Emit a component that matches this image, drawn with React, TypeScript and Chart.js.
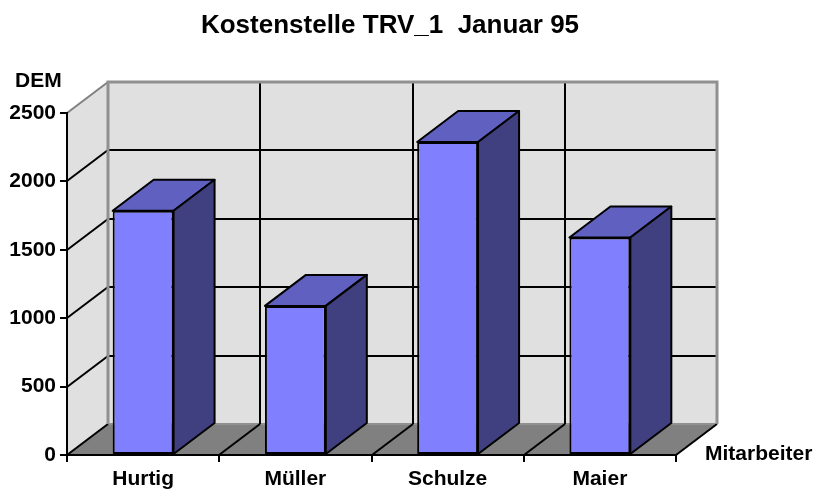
import React, { useEffect, useRef } from "react";
import { Chart, registerables } from "chart.js";

Chart.register(...registerables);

const title = "Kostenstelle TRV_1  Januar 95";
const yAxisLabel = "DEM";
const xAxisLabel = "Mitarbeiter";
const categories = ["Hurtig", "Müller", "Schulze", "Maier"];
const values = [1785, 1090, 2288, 1590];
const yMin = 0;
const yMax = 2500;
const yStep = 500;

const FONT = "'Liberation Sans', Arial, sans-serif";
const DX = 41;
const DY = -31;

const wall3d = {
  id: "wall3d",
  beforeDraw(chart: any) {
    const { ctx, chartArea, scales } = chart;
    const { left, right, top, bottom } = chartArea;
    const x = scales.x;
    const y = scales.y;
    ctx.save();
    ctx.fillStyle = "#E0E0E0";
    ctx.fillRect(left + DX, top + DY, right - left, bottom - top);
    ctx.beginPath();
    ctx.moveTo(left, top);
    ctx.lineTo(left + DX, top + DY);
    ctx.lineTo(left + DX, bottom + DY);
    ctx.lineTo(left, bottom);
    ctx.closePath();
    ctx.fill();
    ctx.fillStyle = "#808080";
    ctx.beginPath();
    ctx.moveTo(left, bottom);
    ctx.lineTo(right, bottom);
    ctx.lineTo(right + DX, bottom + DY);
    ctx.lineTo(left + DX, bottom + DY);
    ctx.closePath();
    ctx.fill();

    ctx.lineWidth = 2;
    for (let v = yMin; v <= yMax; v += yStep) {
      const py = Math.round(y.getPixelForValue(v));
      const edge = v === yMax;
      ctx.strokeStyle = edge || v === yMin ? "#909090" : "#000";
      ctx.beginPath();
      ctx.moveTo(left + DX, py + DY);
      ctx.lineTo(right + DX, py + DY);
      ctx.stroke();
      ctx.strokeStyle = edge ? "#808080" : "#000";
      ctx.beginPath();
      ctx.moveTo(left, py);
      ctx.lineTo(left + DX, py + DY);
      ctx.stroke();
    }
    for (let i = 1; i < categories.length; i++) {
      const bx = Math.round((x.getPixelForValue(i - 1) + x.getPixelForValue(i)) / 2);
      ctx.strokeStyle = "#000";
      ctx.beginPath();
      ctx.moveTo(bx + DX, top + DY);
      ctx.lineTo(bx + DX, bottom + DY);
      ctx.stroke();
      ctx.beginPath();
      ctx.moveTo(bx, bottom);
      ctx.lineTo(bx + DX, bottom + DY);
      ctx.stroke();
    }
    ctx.strokeStyle = "#000";
    ctx.beginPath();
    ctx.moveTo(right, bottom);
    ctx.lineTo(right + DX, bottom + DY);
    ctx.stroke();
    ctx.strokeStyle = "#909090";
    ctx.lineWidth = 3;
    ctx.beginPath();
    ctx.moveTo(left + DX, bottom + DY);
    ctx.lineTo(left + DX, top + DY);
    ctx.lineTo(right + DX, top + DY);
    ctx.lineTo(right + DX, bottom + DY);
    ctx.stroke();
    ctx.restore();
  },
  afterDatasetsDraw(chart: any) {
    const { ctx } = chart;
    const meta = chart.getDatasetMeta(0);
    ctx.save();
    ctx.lineWidth = 2;
    ctx.strokeStyle = "#000";
    ctx.lineJoin = "round";
    meta.data.forEach((bar: any) => {
      const { x: cx, y: ty, base, width } = bar.getProps(["x", "y", "base", "width"], true);
      const l = cx - width / 2;
      const r = cx + width / 2;
      ctx.fillStyle = "#6060C0";
      ctx.beginPath();
      ctx.moveTo(l, ty);
      ctx.lineTo(r, ty);
      ctx.lineTo(r + DX, ty + DY);
      ctx.lineTo(l + DX, ty + DY);
      ctx.closePath();
      ctx.fill();
      ctx.stroke();
      ctx.fillStyle = "#404080";
      ctx.beginPath();
      ctx.moveTo(r, ty);
      ctx.lineTo(r + DX, ty + DY);
      ctx.lineTo(r + DX, base + DY);
      ctx.lineTo(r, base);
      ctx.closePath();
      ctx.fill();
      ctx.stroke();
    });
    ctx.restore();
  },
  afterDraw(chart: any) {
    const { ctx, chartArea } = chart;
    ctx.save();
    ctx.fillStyle = "#000";
    ctx.textBaseline = "alphabetic";
    ctx.font = `bold 26px ${FONT}`;
    ctx.textAlign = "center";
    ctx.fillText(title, 390, 33);
    ctx.font = `bold 21px ${FONT}`;
    ctx.textAlign = "left";
    ctx.fillText(yAxisLabel, 15, 87);
    ctx.fillText(xAxisLabel, chartArea.right + 29, chartArea.bottom + 5);
    ctx.restore();
  },
};

export default function App() {
  const ref = useRef<HTMLCanvasElement>(null);
  useEffect(() => {
    if (!ref.current) return;
    const chart = new Chart(ref.current, {
      type: "bar",
      data: {
        labels: categories,
        datasets: [
          {
            data: values,
            backgroundColor: "#8080FF",
            borderColor: "#000",
            borderWidth: 2,
            borderSkipped: false,
            barPercentage: 0.4,
            categoryPercentage: 1,
          },
        ],
      },
      options: {
        responsive: false,
        animation: false,
        layout: { padding: { top: 113, right: 141, left: 0, bottom: 0 } },
        plugins: { legend: { display: false }, tooltip: { enabled: false }, title: { display: false } },
        scales: {
          x: {
            type: "category",
            offset: true,
            grid: { display: true, drawOnChartArea: false, drawTicks: true, tickLength: 7, color: "#000", lineWidth: 2, offset: true },
            border: { display: true, color: "#000", width: 2 },
            ticks: { color: "#000", font: { family: FONT, size: 21, weight: "bold" }, padding: 5, maxRotation: 0 },
            afterFit: (s: any) => { s.height = 37; },
          },
          y: {
            min: yMin,
            max: yMax,
            grid: { display: true, drawOnChartArea: false, drawTicks: true, tickLength: 7, color: "#000", lineWidth: 2 },
            border: { display: true, color: "#000", width: 2 },
            ticks: {
              stepSize: yStep,
              color: "#000",
              font: { family: FONT, size: 21, weight: "bold" },
              padding: 4,
              callback: (v: any) => String(v),
            },
            afterFit: (s: any) => { s.width = 67; },
          },
        },
      },
      plugins: [wall3d],
    });
    return () => chart.destroy();
  }, []);
  return (
    <div style={{ position: "absolute", left: 0, top: 0, width: 817, height: 492, background: "#fff" }}>
      <canvas ref={ref} width={817} height={492} />
    </div>
  );
}
